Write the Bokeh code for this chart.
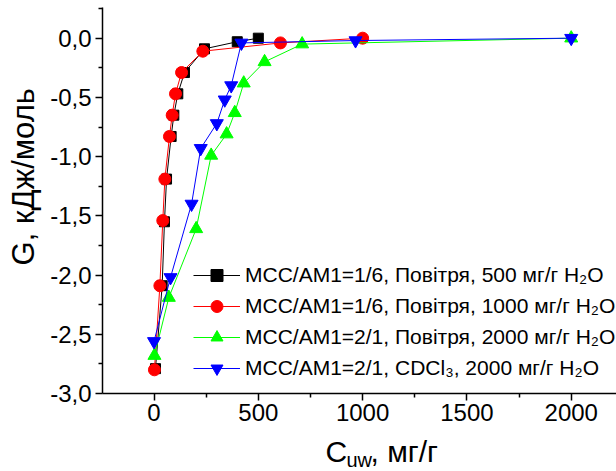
import math
from bokeh.plotting import figure
from bokeh.models import (Range1d, FixedTicker, Legend, LegendItem)
from bokeh.layouts import row, column
from bokeh.core.properties import value
from bokeh.embed import file_html
from bokeh.resources import INLINE

# ---- data ----
black_x = [7, 39, 50, 60, 82, 95, 114, 146, 242, 399, 500]
black_y = [-2.79, -2.09, -1.55, -1.19, -0.83, -0.65, -0.47, -0.29, -0.09, -0.03, 0.0]

red_x = [2, 28, 42, 52, 74, 87, 103, 132, 234, 606, 1000]
red_y = [-2.80, -2.09, -1.54, -1.19, -0.83, -0.65, -0.47, -0.29, -0.11, -0.04, 0.0]

green_x = [2, 71, 202, 274, 348, 387, 430, 530, 710, 2000]
green_y = [-2.68, -2.19, -1.61, -0.99, -0.81, -0.63, -0.38, -0.20, -0.05, 0.0]

blue_x = [0, 79, 180, 224, 301, 339, 370, 419, 966, 2000]
blue_y = [-2.56, -2.02, -1.40, -0.93, -0.72, -0.52, -0.40, -0.04, -0.02, 0.0]

series_labels = [
    "MCC/AM1=1/6, Повітря, 500 мг/г H\u2082O",
    "MCC/AM1=1/6, Повітря, 1000 мг/г H\u2082O",
    "MCC/AM1=2/1, Повітря, 2000 мг/г H\u2082O",
    "MCC/AM1=2/1, CDCl\u2083, 2000 мг/г H\u2082O",
]

x_ticks = [0, 500, 1000, 1500, 2000]
x_minor = [-250, 250, 750, 1250, 1750]
y_ticks = [-3.0, -2.5, -2.0, -1.5, -1.0, -0.5, 0.0]
y_tick_labels = ["-3,0", "-2,5", "-2,0", "-1,5", "-1,0", "-0,5", "0,0"]
y_minor = [-2.75, -2.25, -1.75, -1.25, -0.75, -0.25, 0.25]

y_title = "G, кДж/моль"
x_title_parts = ["C", "uw", ", мг/г"]

FONT = "Liberation Sans"

# ---- layout geometry (pixels) ----
W, H = 616, 471
YLAB_W = 45          # strip holding the y title
MAIN_H = 431         # main plot height
XLAB_H = H - MAIN_H  # strip holding the x title

# ---- main plot ----
p = figure(width=W - YLAB_W, height=MAIN_H, output_backend="svg", toolbar_location=None,
           title=None,
           x_range=Range1d(-247, 2217), y_range=Range1d(-3.0, 0.259),
           min_border_left=102 - YLAB_W, min_border_right=0, min_border_top=7,
           min_border_bottom=MAIN_H - 393)
p.outline_line_color = None
p.xgrid.visible = False
p.ygrid.visible = False
p.background_fill_color = "white"
p.border_fill_color = "white"

for ax in (p.xaxis[0], p.yaxis[0]):
    ax.axis_line_width = 1.5
    ax.axis_line_color = "black"
    ax.major_tick_line_width = 1.5
    ax.minor_tick_line_width = 1.5
    ax.major_tick_in = 0
    ax.major_tick_out = 7
    ax.minor_tick_in = 0
    ax.minor_tick_out = 4
    ax.major_label_text_font = FONT
    ax.major_label_text_font_size = "24px"
    ax.major_label_text_color = "black"
    ax.major_label_standoff = 4
p.xaxis.major_label_standoff = 3

p.xaxis.ticker = FixedTicker(ticks=x_ticks, minor_ticks=x_minor)
p.yaxis.ticker = FixedTicker(ticks=y_ticks, minor_ticks=y_minor)
p.yaxis.major_label_overrides = {t: l for t, l in zip(y_ticks, y_tick_labels)}

specs = [
    (black_x, black_y, "black", "square", 10),
    (red_x, red_y, "red", "circle", 12),
    (green_x, green_y, "#00ff00", "triangle", 13),
    (blue_x, blue_y, "blue", "inverted_triangle", 13),
]
items = []
for (xs, ys, col, mk, sz), lab in zip(specs, series_labels):
    lr = p.line(xs, ys, line_color=col, line_width=1)
    sr = p.scatter(xs, ys, marker=mk, size=sz, fill_color=col, line_color=col)
    items.append(LegendItem(label=lab, renderers=[lr, sr]))

legend = Legend(items=items, location=(91, 10), glyph_width=47, glyph_height=30,
                label_height=30, spacing=1, padding=0, margin=0,
                border_line_color=None, background_fill_alpha=0,
                label_text_font=FONT, label_text_font_size="21px",
                label_standoff=5, label_text_color="black")
p.add_layout(legend)

# ---- y title strip (pixel coordinates, y downward) ----
py = figure(width=YLAB_W, height=MAIN_H, output_backend="svg", toolbar_location=None,
            title=None,
            x_range=Range1d(0, YLAB_W), y_range=Range1d(MAIN_H, 0), min_border=0)
py.axis.visible = False
py.grid.visible = False
py.outline_line_color = None
py.text(x=[23], y=[189], text=[y_title], angle=math.pi / 2,
        text_align="center", text_baseline="middle",
        text_font=value(FONT), text_font_size="31px", text_color="black")

# ---- x title strip (pixel coordinates, y downward) ----
px = figure(width=W, height=XLAB_H, output_backend="svg", toolbar_location=None,
            title=None,
            x_range=Range1d(0, W), y_range=Range1d(H, MAIN_H), min_border=0)
px.axis.visible = False
px.grid.visible = False
px.outline_line_color = None
px.text(x=[325], y=[451], text=[x_title_parts[0]], text_align="left",
        text_baseline="middle", text_font=value(FONT), text_font_size="30px",
        text_color="black")
px.text(x=[346], y=[459], text=[x_title_parts[1]], text_align="left",
        text_baseline="middle", text_font=value(FONT), text_font_size="20px",
        text_color="black")
px.text(x=[370], y=[451], text=[x_title_parts[2]], text_align="left",
        text_baseline="middle", text_font=value(FONT), text_font_size="30px",
        text_color="black")

layout = column(row(py, p, spacing=0), px, spacing=0)
open("out.html", "w").write(file_html(layout, INLINE))
